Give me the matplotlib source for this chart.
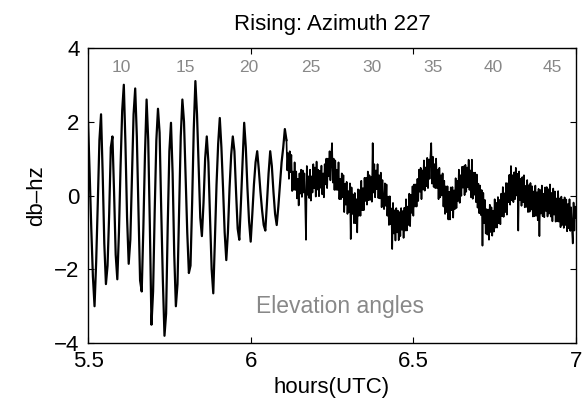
import numpy as np
import matplotlib
matplotlib.use("Agg")
import matplotlib.pyplot as plt

plt.rcParams['font.family'] = ['Liberation Sans', 'DejaVu Sans']

# early part: 5.500 .. 6.105 h every 0.005 h ; late part: 6.110 .. 7.000 h every 0.0025 h
early_start, early_end = 5.5, 6.105
late_start, late_end = 6.11, 7.0

# signal values (db-hz)
sig_early = [
    2.0, 0.6, -0.9, -2.2, -3.0, -1.8, -0.2, 1.5, 2.2, 0.6,
    -1.3, -2.4, -1.9, -0.5, 1.3, 1.6, 0.1, -1.6, -2.27, -1.0,
    0.8, 2.3, 3.0, 1.4, -0.6, -1.85, -1.2, 0.5, 2.2, 2.9,
    1.6, -0.4, -2.3, -2.6, -0.9, 1.1, 2.6, 1.5, -0.8, -3.5,
    -2.6, -0.4, 1.5, 2.35, 1.7, -0.4, -2.3, -3.8, -3.2, -0.8,
    1.2, 1.97, 0.6, -1.6, -3.0, -2.4, -0.4, 1.6, 2.6, 2.0,
    0.5, -1.0, -2.1, -1.9, -0.2, 1.8, 3.1, 2.2, 0.8, -0.6,
    -1.1, -0.2, 1.0, 1.6, 0.9, -0.6, -2.0, -2.65, -1.2, 0.3,
    1.4, 2.1, 1.3, 0.2, -1.0, -1.75, -1.0, 0.2, 1.1, 1.6,
    1.2, 0.1, -0.9, -1.2, -0.2, 0.9, 1.97, 1.3, 0.2, -0.7,
    -1.25, -0.5, 0.3, 0.9, 1.2, 0.7, 0.1, -0.4, -0.8, -0.95,
    -0.2, 0.6, 1.2, 0.8, 0.1, -0.5, -0.8, -0.3, 0.3, 0.9,
    1.3, 1.8,
]
sig_late = [
    1.5, 0.68, 1.15, 0.45, 1.2, 0.63, 1.1, 0.12, 0.65, 0.15,
    0.9, 0.15, 0.65, -0.08, 0.45, -0.27, 0.6, 0.05, 0.7, -0.04,
    0.68, 0.08, 0.6, -0.15, -1.2, 0.8, 0.02, 0.52, -0.07, 0.7,
    -0.14, 0.52, 0.08, 0.85, 0.2, 0.76, -0.03, 0.92, 0.16, 0.7,
    -0.02, 0.67, 0.21, 0.81, 0.03, 0.6, -0.05, 0.85, 0.3, 1.0,
    0.2, 1.0, 0.52, 1.2, 0.41, 1.03, 1.42, 0.35, 1.0, 0.15,
    0.95, 0.15, 0.7, 0.15, 0.9, -0.1, 0.45, -0.1, 0.6, -0.05,
    0.55, -0.45, 0.32, -0.25, 0.37, -0.5, 0.12, -0.45, 0.33, -1.18,
    0.22, -0.5, 0.03, -0.75, 0.07, -0.75, -0.1, -1.0, 0.17, -0.55,
    0.15, -0.55, 0.4, -0.4, 0.2, -0.4, 0.48, -0.15, 0.48, -0.25,
    0.65, -0.13, 0.55, -0.12, 0.5, -0.17, 1.42, 0.08, 0.85, -0.05,
    0.68, 0.17, 0.85, -0.07, 0.55, -0.08, 0.62, -0.32, 0.42, -0.22,
    -0.37, 0.33, -0.28, 0.3, -0.55, -0.03, -0.8, -0.02, -0.78, -0.35,
    -1.45, -0.2, -1.03, -0.4, -1.22, -0.34, -1.0, -0.41, -1.21, -0.45,
    -1.1, -0.34, -0.93, -0.42, -1.15, -0.33, -0.95, -0.1, -0.95, -0.3,
    -0.8, 0.05, -0.83, 0.02, -0.47, 0.25, -0.55, 0.3, -0.3, 0.3,
    -0.3, 0.45, -0.15, 0.7, 0.1, 0.75, -0.1, 0.68, 0.16, 0.95,
    0.13, 0.76, 0.25, 1.02, 0.2, 0.98, 0.45, 1.05, 1.42, 0.32,
    1.05, 0.23, 0.85, 0.2, 1.0, 0.2, 0.7, -0.1, 0.75, -0.05,
    0.55, 0.0, 0.6, -0.3, 0.4, -0.5, 0.25, -0.45, 0.25, -0.65,
    0.1, -0.65, 0.22, -0.4, 0.23, -0.6, 0.14, -0.37, 0.47, -0.34,
    0.4, -0.15, 0.7, -0.2, 0.55, -0.01, 0.78, 0.21, 0.79, 0.01,
    0.83, 0.1, 0.76, 0.22, 0.97, 0.15, 0.68, -0.05, 0.97, -0.09,
    0.62, 0.02, 0.62, -0.18, 0.57, -0.33, 0.32, -0.48, 0.27, -0.53,
    0.15, -1.36, 0.07, -0.75, -0.12, -1.03, -0.37, -1.06, -0.38, -1.2,
    -0.25, -0.99, -0.32, -1.09, -0.41, -0.98, -0.1, -0.87, -0.2, -0.87,
    -0.04, -0.75, -0.12, -0.78, 0.05, -0.56, 0.23, -0.58, 0.06, -0.45,
    0.34, -0.52, 0.33, -0.18, 0.56, -0.25, 0.8, -0.13, 0.55, -0.18,
    0.63, -0.1, 0.75, 0.0, 0.59, -0.95, 0.65, -0.13, 0.45, -0.28,
    0.5, -0.18, 0.55, -0.32, 0.26, -0.31, 0.42, -0.45, 0.28, -0.44,
    0.34, -0.38, 0.25, -0.57, 0.11, -0.56, 0.27, -0.55, 0.09, -0.67,
    0.18, -1.1, 0.15, -0.49, 0.27, -0.56, 0.05, -0.59, 0.22, -0.42,
    0.23, -0.57, 0.17, -0.49, 0.3, -0.57, 0.07, -0.7, 0.19, -0.52,
    0.11, -0.71, -0.08, -0.7, 0.12, -0.71, -0.08, -0.86, -0.03, -0.8,
    -0.12, -0.88, -0.05, -0.8, -0.11, -0.97, -0.23, -0.89, -0.1, -0.96,
    -0.32, -0.88, -1.3, -0.19, -0.95, -0.3, -0.6,
]

# elevation angle annotations
elev_angles = [10, 15, 20, 25, 30, 35, 40, 45]
elev_hours = [5.603, 5.80, 5.993, 6.185, 6.374, 6.56, 6.745, 6.926]

x_ticks = [5.5, 6, 6.5, 7]
x_ticklabels = ['5.5', '6', '6.5', '7']
y_ticks = [-4, -2, 0, 2, 4]
y_ticklabels = ['\u22124', '\u22122', '0', '2', '4']

hours_early = np.linspace(early_start, early_end, len(sig_early))
hours_late = np.linspace(late_start, late_end, len(sig_late))

fig = plt.figure(figsize=(5.83, 4.09), dpi=100)
ax = fig.add_axes([0.151, 0.161, 0.837, 0.722])

# same series, drawn in two pieces (joined) with slightly different stroke widths
ax.plot(np.append(hours_early, hours_late[0]), sig_early + sig_late[:1],
        color='black', linewidth=1.6, solid_joinstyle='round')
ax.plot(hours_late, sig_late, color='black', linewidth=1.2)

ax.set_xlim(5.5, 7.0)
ax.set_ylim(-4, 4)
ax.set_xticks(x_ticks)
ax.set_xticklabels(x_ticklabels)
ax.set_yticks(y_ticks)
ax.set_yticklabels(y_ticklabels)
ax.tick_params(direction='in', length=4, width=0.8, top=True, right=True,
               labelsize=16, pad=6)
for s in ax.spines.values():
    s.set_linewidth(1.0)

for a, h in zip(elev_angles, elev_hours):
    ax.text(h, 3.48, str(a), color='#888888', fontsize=12.5,
            ha='center', va='center')
ax.text(6.273, -3.0, 'Elevation angles', color='#888888', fontsize=16.5,
        ha='center', va='center')

ax.set_title('Rising: Azimuth 227', fontsize=16, pad=13)
ax.set_xlabel('hours(UTC)', fontsize=16, labelpad=3)
ax.set_ylabel('db\u2013hz', fontsize=16, labelpad=5)

fig.savefig('out.png', dpi=100)
